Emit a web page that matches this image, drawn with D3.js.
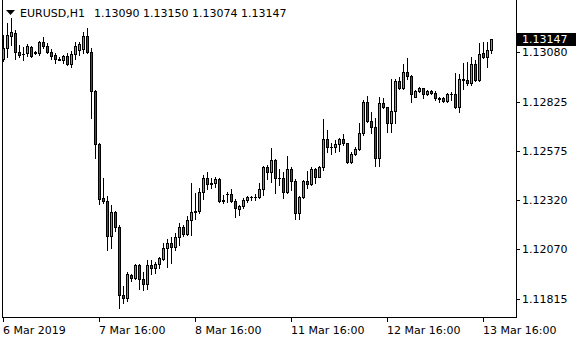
<html>
<head>
    <script src="https://d3js.org/d3.v7.min.js"></script>
    <style>
        body { margin: 0; background: #fff; }
        svg text { font-family: "DejaVu Sans", sans-serif; font-size: 11px; fill: #000; }
    </style>
</head>
<body>
<svg id="svg" width="580" height="340"></svg>
<script>
    // **** Data (EURUSD H1) ****
    const opens = [1.13044,1.13101,1.13166,1.13180,1.13082,1.13070,1.13075,1.13108,1.13082,1.13078,
        1.13131,1.13114,1.13082,1.13064,1.13044,1.13042,1.13063,1.13021,1.13073,1.13092,
        1.13096,1.13164,1.13083,1.12882,1.12608,1.12330,1.12318,1.12139,1.12258,1.12185,
        1.11836,1.11817,1.11938,1.11922,1.11988,1.11915,1.11889,1.11988,1.11971,1.11993,
        1.12020,1.12073,1.12099,1.12082,1.12130,1.12181,1.12147,1.12219,1.12258,1.12266,
        1.12363,1.12433,1.12402,1.12407,1.12428,1.12318,1.12350,1.12353,1.12317,1.12276,
        1.12291,1.12322,1.12335,1.12337,1.12337,1.12378,1.12490,1.12464,1.12527,1.12433,
        1.12434,1.12364,1.12479,1.12421,1.12253,1.12336,1.12419,1.12402,1.12479,1.12441,
        1.12490,1.12634,1.12592,1.12593,1.12609,1.12634,1.12613,1.12515,1.12556,1.12582,
        1.12664,1.12823,1.12729,1.12695,1.12536,1.12818,1.12797,1.12715,1.12781,1.12934,
        1.12895,1.12977,1.12960,1.12851,1.12882,1.12895,1.12864,1.12881,1.12872,1.12843,
        1.12843,1.12831,1.12866,1.12866,1.12797,1.12942,1.12938,1.12924,1.13020,1.12938,
        1.13078,1.13054,1.13090]
    const highs = [1.13169,1.13232,1.13256,1.13195,1.13117,1.13109,1.13122,1.13114,1.13086,1.13139,
        1.13158,1.13126,1.13096,1.13075,1.13058,1.13068,1.13075,1.13085,1.13133,1.13133,
        1.13186,1.13205,1.13101,1.12888,1.12612,1.12436,1.12342,1.12296,1.12264,1.12194,
        1.11880,1.11953,1.11942,1.11992,1.11992,1.11953,1.12014,1.12012,1.12005,1.12031,
        1.12099,1.12120,1.12130,1.12154,1.12202,1.12193,1.12239,1.12410,1.12359,1.12381,
        1.12450,1.12464,1.12433,1.12438,1.12435,1.12348,1.12361,1.12377,1.12327,1.12296,
        1.12330,1.12340,1.12343,1.12352,1.12410,1.12498,1.12502,1.12587,1.12532,1.12479,
        1.12467,1.12548,1.12490,1.12428,1.12343,1.12424,1.12471,1.12490,1.12484,1.12496,
        1.12737,1.12681,1.12613,1.12630,1.12639,1.12661,1.12616,1.12570,1.12595,1.12715,
        1.12835,1.12854,1.12775,1.12742,1.12852,1.12847,1.12800,1.12942,1.12945,1.12955,
        1.13020,1.13050,1.12963,1.12886,1.12900,1.12898,1.12886,1.12884,1.12881,1.12852,
        1.12852,1.12869,1.12878,1.12972,1.12969,1.13026,1.13028,1.13054,1.13040,1.13126,
        1.13134,1.13134,1.13150]
    const lows = [1.13036,1.13058,1.13117,1.13044,1.13058,1.13040,1.13061,1.13056,1.13070,1.13065,
        1.13100,1.13075,1.13046,1.13026,1.13038,1.13026,1.13016,1.13006,1.13044,1.13068,
        1.13075,1.13078,1.12744,1.12538,1.12300,1.12305,1.12065,1.12075,1.12164,1.11768,
        1.11791,1.11804,1.11907,1.11916,1.11864,1.11860,1.11867,1.11940,1.11945,1.11971,
        1.12012,1.11976,1.12000,1.12065,1.12091,1.12137,1.12142,1.12142,1.12222,1.12256,
        1.12325,1.12378,1.12381,1.12387,1.12313,1.12305,1.12313,1.12313,1.12233,1.12245,
        1.12281,1.12313,1.12322,1.12322,1.12331,1.12348,1.12428,1.12415,1.12359,1.12399,
        1.12330,1.12359,1.12373,1.12222,1.12222,1.12331,1.12381,1.12399,1.12407,1.12438,
        1.12476,1.12570,1.12558,1.12570,1.12575,1.12604,1.12510,1.12510,1.12553,1.12578,
        1.12655,1.12724,1.12667,1.12496,1.12496,1.12795,1.12672,1.12672,1.12715,1.12890,
        1.12890,1.12941,1.12823,1.12849,1.12876,1.12847,1.12859,1.12864,1.12835,1.12826,
        1.12826,1.12826,1.12835,1.12792,1.12775,1.12890,1.12912,1.12912,1.12934,1.12934,
        1.13049,1.13003,1.13074]
    const closes = [1.13101,1.13169,1.13183,1.13080,1.13068,1.13073,1.13112,1.13061,1.13077,1.13131,
        1.13112,1.13080,1.13063,1.13046,1.13042,1.13061,1.13021,1.13073,1.13112,1.13121,
        1.13164,1.13083,1.12882,1.12608,1.12327,1.12318,1.12139,1.12260,1.12185,1.11834,
        1.11817,1.11941,1.11922,1.11988,1.11915,1.11889,1.11988,1.11971,1.11993,1.12022,
        1.12073,1.12099,1.12082,1.12130,1.12181,1.12147,1.12219,1.12258,1.12266,1.12363,
        1.12433,1.12402,1.12407,1.12428,1.12318,1.12320,1.12353,1.12317,1.12279,1.12291,
        1.12322,1.12335,1.12337,1.12337,1.12378,1.12490,1.12464,1.12527,1.12433,1.12434,
        1.12364,1.12479,1.12421,1.12253,1.12336,1.12419,1.12402,1.12479,1.12441,1.12490,
        1.12634,1.12592,1.12593,1.12609,1.12634,1.12613,1.12515,1.12556,1.12582,1.12664,
        1.12823,1.12729,1.12695,1.12536,1.12818,1.12797,1.12715,1.12781,1.12934,1.12895,
        1.12977,1.12960,1.12864,1.12882,1.12895,1.12864,1.12881,1.12870,1.12843,1.12840,
        1.12831,1.12866,1.12866,1.12797,1.12942,1.12938,1.12924,1.13020,1.12938,1.13071,
        1.13054,1.13092,1.13147]

    const priceTicks = [1.11815, 1.12070, 1.12320, 1.12575, 1.12825, 1.13080]
    const timeTickBars = [0, 24, 48, 72, 96, 120]
    const timeTickLabels = ['6 Mar 2019', '7 Mar 16:00', '8 Mar 16:00', '11 Mar 16:00', '12 Mar 16:00', '13 Mar 16:00']
    const symbol = 'EURUSD,H1'

    // **** Layout ****
    const left = 2, right = 516, bottom = 317
    const bullColor = '#32cd32'
    const bearColor = '#ff0000'

    const candles = opens.map((o, i) => ({ i, o, h: highs[i], l: lows[i], c: closes[i] }))

    const x = d3.scaleLinear().domain([0, candles.length - 1]).range([3, 3 + 4 * (candles.length - 1)])
    const y = d3.scaleLinear().domain([1.11815, 1.13080]).range([298.7, 52.3])

    const svg = d3.select('#svg').attr('shape-rendering', 'crispEdges')

    // frame
    svg.append('rect').attr('x', left).attr('y', 0).attr('width', 1).attr('height', bottom + 1).attr('fill', '#000')
    svg.append('rect').attr('x', right).attr('y', 0).attr('width', 1).attr('height', bottom + 1).attr('fill', '#000')
    svg.append('rect').attr('x', left).attr('y', bottom).attr('width', right - left + 1).attr('height', 1).attr('fill', '#000')

    // price axis
    const py = svg.append('g')
    py.selectAll('rect')
        .data(priceTicks)
        .enter()
        .append('rect')
        .attr('x', right + 1)
        .attr('y', d => Math.round(y(d)))
        .attr('width', 3)
        .attr('height', 1)
        .attr('fill', '#000')
    py.selectAll('text')
        .data(priceTicks)
        .enter()
        .append('text')
        .attr('x', 522)
        .attr('y', d => Math.round(y(d)) + 4)
        .text(d => d3.format('.5f')(d))

    // time axis
    const tx = svg.append('g')
    tx.selectAll('rect')
        .data(timeTickBars)
        .enter()
        .append('rect')
        .attr('x', d => x(d))
        .attr('y', bottom + 1)
        .attr('width', 1)
        .attr('height', 4)
        .attr('fill', '#000')
    tx.selectAll('text')
        .data(timeTickBars)
        .enter()
        .append('text')
        .attr('x', d => x(d))
        .attr('y', 334)
        .text((d, i) => timeTickLabels[i])

    // candles
    const g = svg.selectAll('g.candle')
        .data(candles)
        .enter()
        .append('g')
        .attr('class', 'candle')

    g.append('rect')
        .attr('x', d => x(d.i))
        .attr('y', d => Math.round(y(d.h)))
        .attr('width', 1)
        .attr('height', d => Math.round(y(d.l)) - Math.round(y(d.h)) + 1)
        .attr('fill', '#000')

    g.append('rect')
        .attr('x', d => x(d.i) - 1)
        .attr('y', d => Math.round(y(Math.max(d.o, d.c))))
        .attr('width', 3)
        .attr('height', d => Math.round(y(Math.min(d.o, d.c))) - Math.round(y(Math.max(d.o, d.c))) + 1)
        .attr('fill', '#000')

    g.filter(d => Math.round(y(Math.min(d.o, d.c))) - Math.round(y(Math.max(d.o, d.c))) >= 2)
        .append('rect')
        .attr('x', d => x(d.i))
        .attr('y', d => Math.round(y(Math.max(d.o, d.c))) + 1)
        .attr('width', 1)
        .attr('height', d => Math.round(y(Math.min(d.o, d.c))) - Math.round(y(Math.max(d.o, d.c))) - 1)
        .attr('fill', d => d.c >= d.o ? bullColor : bearColor)

    // last price marker
    const last = candles[candles.length - 1]
    svg.append('rect')
        .attr('x', right + 1)
        .attr('y', Math.round(y(last.c)) - 6)
        .attr('width', 59)
        .attr('height', 13)
        .attr('fill', '#000')
    svg.append('text')
        .attr('x', 522)
        .attr('y', Math.round(y(last.c)) + 4)
        .style('fill', '#fff')
        .text(d3.format('.5f')(last.c))

    // header
    svg.append('path')
        .attr('d', 'M6,10 L15,10 L10.5,15 Z')
        .attr('fill', '#000')
        .attr('shape-rendering', 'auto')
    svg.append('text')
        .attr('x', 20)
        .attr('y', 17)
        .text(symbol)
    svg.append('text')
        .attr('x', 94)
        .attr('y', 17)
        .text([last.o, last.h, last.l, last.c].map(d3.format('.5f')).join(' '))
</script>
</body>
</html>
